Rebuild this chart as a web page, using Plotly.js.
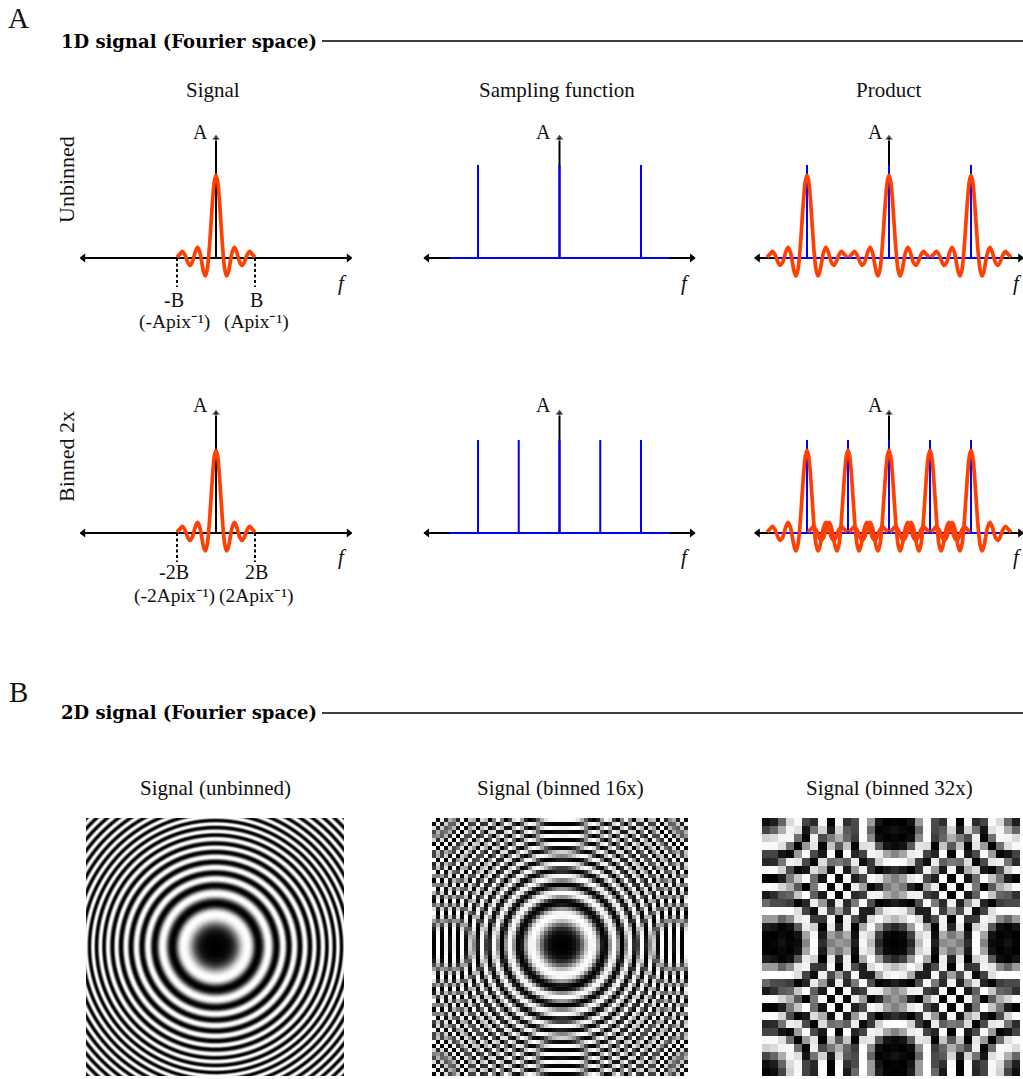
<!DOCTYPE html>
<html><head><meta charset="utf-8">
<script src="https://cdn.plot.ly/plotly-3.0.1.min.js"></script>
<style>html,body{margin:0;padding:0;background:#fff}#c{width:1023px;height:1079px}</style>
</head><body><div id="c"></div>
<script>
// Signal curve (f in units of B, A relative to the peak)
const signalF = [-0.975,-0.90,-0.84,-0.78,-0.74,-0.70,-0.65,-0.60,-0.56,-0.52,-0.46,-0.40,-0.36,-0.31,-0.267,-0.22,-0.187,-0.16,-0.12,-0.08,-0.04,0,0.04,0.08,0.12,0.16,0.187,0.22,0.267,0.31,0.36,0.40,0.46,0.52,0.56,0.60,0.65,0.70,0.74,0.78,0.84,0.90,0.975];
const signalA = [0.01,0.05,0.08,0.04,-0.01,-0.06,-0.09,-0.06,0,0.07,0.13,0.06,-0.04,-0.17,-0.217,-0.14,0,0.16,0.45,0.73,0.93,1,0.93,0.73,0.45,0.16,0,-0.14,-0.217,-0.17,-0.04,0.06,0.13,0.07,0,-0.06,-0.09,-0.06,-0.01,0.04,0.08,0.05,0.01];
const spikesUnbinned = [-2,0,2];
const spikesBinned = [-2,-1,0,1,2];
const spikeTop = 1.125;
const sampleBaseF = [-2.7,2.7];
const dashF = [-0.975,0.975];
const dashA = [0,-0.35];
const axisFSignal = [-3.32,3.32];
const axisFSampling = [-3.25,3.25];
const axisFProduct = [-3.2,3.2];
const axisTop = 1.45;

// Ring table read along the radius of the unbinned image (px from centre; dark, bright, dark ...)
const ringRadii = [0,32,43,53,61,67.5,73.5,79,84.5,89.5,94.5,99,103,107.5,111.5,115,119,122.5,126,129.5,133,136.5,140,143.5,147,150.5,154,157.5,161,164.5,168,171.5,175,178.5,182,185.5,189];
const coarseRingRadii = [0,30.4,43,52.7,60.8,68,74.5,80.5,86,91.2,96.1,100.8,105.3,109.6,113.7,117.6,121.2,125,129,133,136.9,140.7,144.3,147.8,151.2,154.5,157.7,160.9,164,167.2,170.3,173.3,176.3,179.3,182.3,185.1,187.9];
const ringShade = [0,0.02,0.07,0.17,0.32,0.5,0.68,0.83,0.93,0.98,1];
const imageCells = [258,64,32];

const colTitles = ['Signal','Sampling function','Product'];
const imgTitles = ['Signal (unbinned)','Signal (binned 16x)','Signal (binned 32x)'];

const W=1023,H=1079,FONT='Liberation Serif',RED='#ff4000',BLUE='#0000ff',INK='#111111';
const PY=82.7;
const data=[], layout={width:W,height:H,margin:{l:0,r:0,t:0,b:0},paper_bgcolor:'#fff',plot_bgcolor:'rgba(0,0,0,0)',showlegend:false,annotations:[],shapes:[]};
let ax=0;
function axes(x0,x1,y0,y1,xr,yr){
  ax++; const s=ax===1?'':ax;
  const base={visible:false,fixedrange:true,showgrid:false,zeroline:false};
  layout['xaxis'+s]={...base,domain:[x0/W,x1/W],range:xr,anchor:'y'+s};
  layout['yaxis'+s]={...base,domain:[1-y1/H,1-y0/H],range:yr,anchor:'x'+s};
  return {xaxis:'x'+s,yaxis:'y'+s};
}
function line(a,x,y,color,width,extra){data.push({type:'scatter',mode:'lines',x,y,line:{color,width,...(extra||{})},hoverinfo:'skip',...a});}
function blackAxes(a,fr){
  data.push({type:'scatter',mode:'lines+markers',x:fr,y:[0,0],line:{color:'#000',width:2},marker:{color:'#000',size:8,symbol:['triangle-left','triangle-right']},hoverinfo:'skip',...a});
  data.push({type:'scatter',mode:'lines+markers',x:[0,0],y:[0,axisTop],line:{color:'#000',width:2},marker:{color:'#000',size:[0,8],symbol:'triangle-up'},hoverinfo:'skip',...a});
}
function panel(cx,base,left,right,px){
  const top=1.5,bot=-0.4;
  return axes(cx-left,cx+right,base-top*PY,base-bot*PY,[-left/px,right/px],[bot,top]);
}
function spikes(a,list){
  line(a,sampleBaseF,[0,0],BLUE,2);
  list.forEach(s=>line(a,[s,s],[0,spikeTop],BLUE,2));
}
function redCurve(a,off){
  line(a,signalF.map(v=>v+off),signalA,RED,3.7,{shape:'spline',smoothing:1});
}
function rowPanels(base,list){
  const a1=panel(216,base,136,136,40); blackAxes(a1,axisFSignal);
  dashF.forEach(f=>line(a1,[f,f],dashA,'#000',2,{dash:'3px,2.5px'}));
  redCurve(a1,0);
  const a2=panel(559.5,base,136,136,40.75); blackAxes(a2,axisFSampling); spikes(a2,list);
  const a3=panel(889,base,136,134,41); blackAxes(a3,axisFProduct); spikes(a3,list);
  list.forEach(s=>redCurve(a3,s));
}
rowPanels(258,spikesUnbinned);
rowPanels(533,spikesBinned);

function shadeAt(table,r){
  let k=0; while(k<table.length-2 && table[k+1]<r) k++;
  const a=table[k]*table[k], b=table[k+1]*table[k+1];
  const t=Math.min(1,(r*r-a)/(b-a));
  const p=t*(ringShade.length-1), i=Math.min(ringShade.length-2,Math.floor(p));
  const v=ringShade[i]+(ringShade[i+1]-ringShade[i])*(p-i);
  return k%2===0?v:1-v;
}
[[86,344],[432,688],[762,1020]].forEach((b,n)=>{
  const N=imageCells[n], s=258/N, z=[], table=n===0?ringRadii:coarseRingRadii;
  for(let j=0;j<N;j++){const row=[];for(let i=0;i<N;i++)row.push(shadeAt(table,Math.hypot((i-N/2)*s,(j-N/2)*s)));z.push(row);}
  const a=axes(b[0],b[1],818,1076,[-0.5,N-0.5],[-0.5,N-0.5]);
  data.push({type:'heatmap',z,zmin:0,zmax:1,colorscale:[[0,'#000'],[1,'#fff']],showscale:false,hoverinfo:'skip',zsmooth:false,...a});
});

function text(t,x,y,size,opt){
  layout.annotations.push({text:t,xref:'paper',yref:'paper',x:x/W,y:1-y/H,xanchor:'center',yanchor:'middle',showarrow:false,font:{family:FONT,size,color:INK},...(opt||{})});
}
text('A',18,18,29); text('B',18,692,29);
const headFont={family:'DejaVu Serif',size:18,color:'#000',weight:700};
text('1D signal (Fourier space)',59,41,18,{xanchor:'left',font:headFont});
text('2D signal (Fourier space)',59,712,18,{xanchor:'left',font:headFont});
[41,713].forEach(y=>layout.shapes.push({type:'line',xref:'paper',yref:'paper',x0:322/W,x1:1,y0:1-y/H,y1:1-y/H,line:{color:'#000',width:1.3}}));
[213,557,888].forEach((x,i)=>text(colTitles[i],x,90,21));
[215,560,889].forEach((x,i)=>text(imgTitles[i],x,788,21));
text('Unbinned',66,180,22,{textangle:-90});
text('Binned 2x',66,457,22,{textangle:-90});
const italic={family:FONT,size:21,color:INK,style:'italic'};
[0,273].forEach(dy=>[200,543,875].forEach(x=>text('A',x,132+dy,20)));
[0,274].forEach(dy=>[342,685,1017].forEach(x=>text('f',x,283+dy,21,{font:italic})));
text('-B',174,300,20); text('B',256,300,20);
text('(-Apix⁻¹)',174,322,19.5); text('(Apix⁻¹)',256,322,19.5);
text('-2B',174,572,20); text('2B',256,572,20);
text('(-2Apix⁻¹)',174,596,19.5); text('(2Apix⁻¹)',256,596,19.5);

Plotly.newPlot('c',data,layout,{displayModeBar:false,staticPlot:true});
</script></body></html>
